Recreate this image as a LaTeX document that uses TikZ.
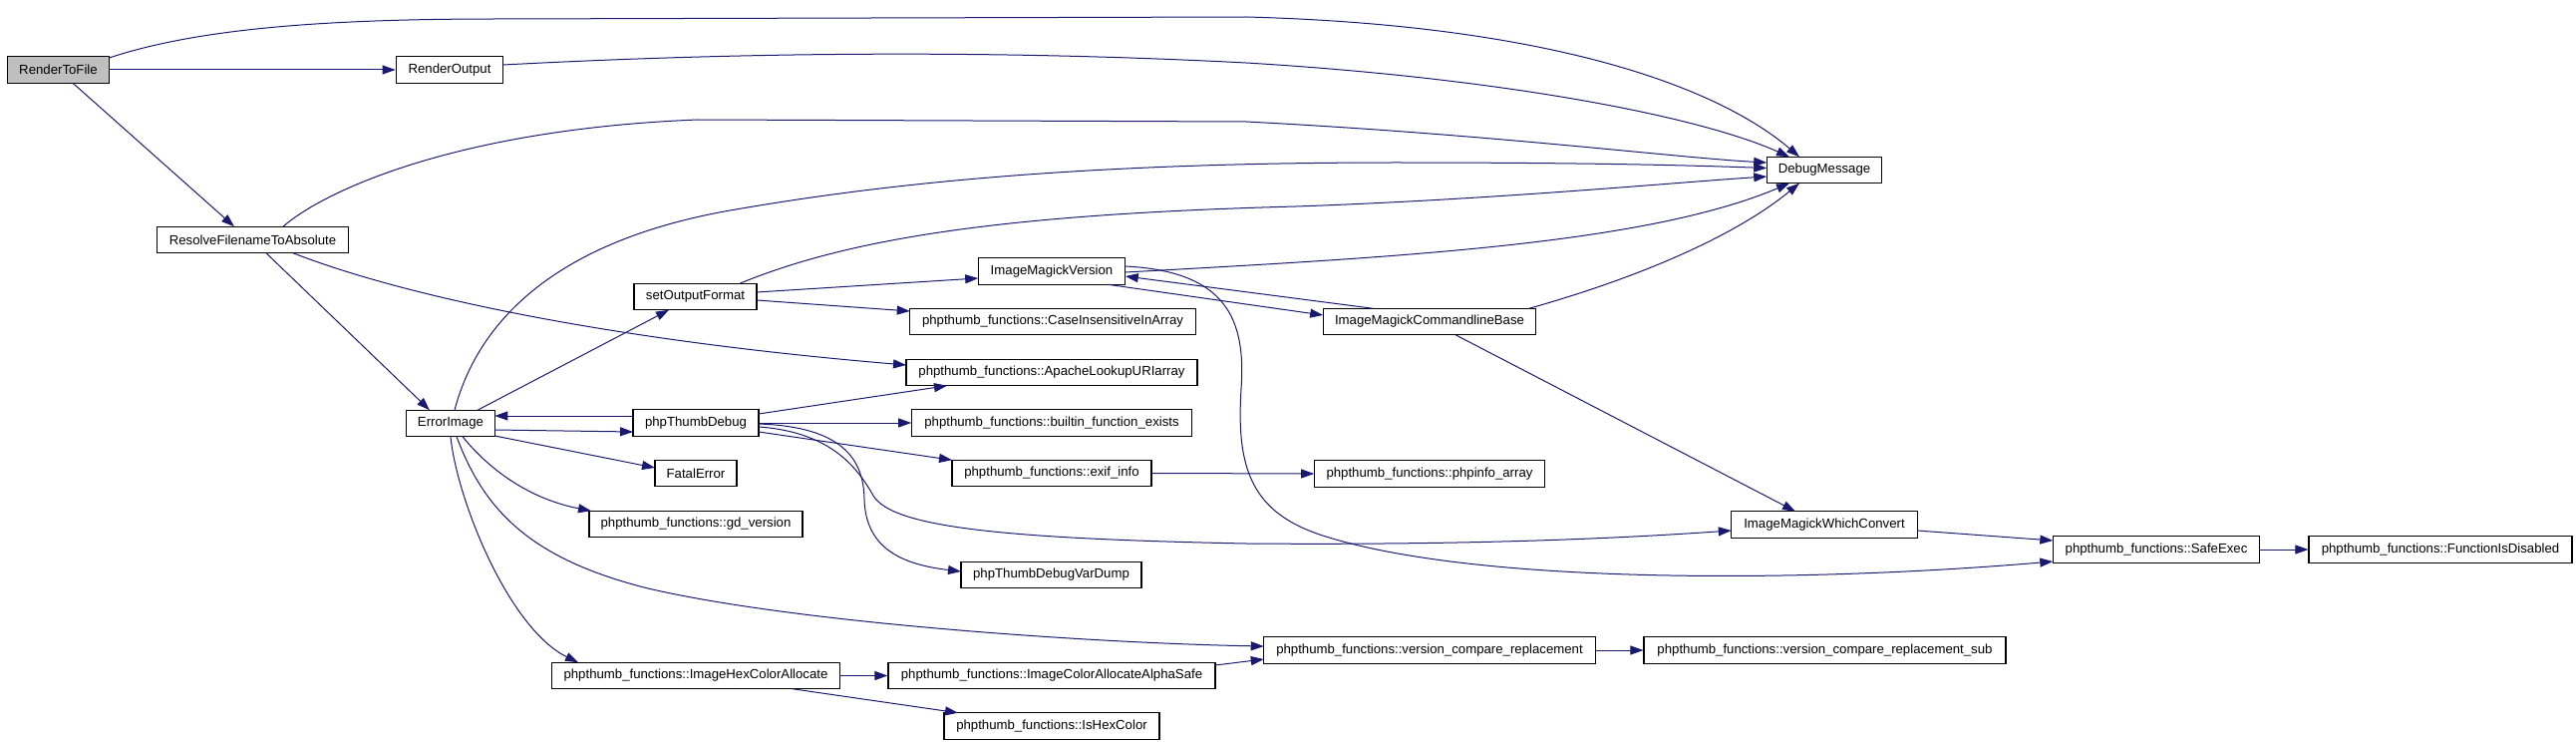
\documentclass[tikz,border=0pt]{standalone}
\usepackage{fontspec}
\setmainfont{Liberation Sans}
\usetikzlibrary{arrows.meta,calc}
\definecolor{edgeblue}{HTML}{191970}
\definecolor{nodegray}{HTML}{BFBFBF}
\begin{document}
\begin{tikzpicture}[x=1pt,y=-1pt,
  box/.style={draw=black,line width=1.1pt,fill=white,minimum height=26.5pt,inner sep=0pt,
    font=\fontsize{13.2}{15.8}\selectfont},
  edge/.style={draw=edgeblue,line width=1pt,-{Triangle[length=13pt,width=9pt]}}]
\useasboundingbox (0,0) rectangle (2584,746);

% nodes
\node[box,fill=nodegray,minimum width=102pt] (rtf) at (58.5,70) {RenderToFile};
\node[box,minimum width=107.5pt] (ro) at (451,70) {RenderOutput};
\node[box,minimum width=192pt] (res) at (253.5,240.5) {ResolveFilenameToAbsolute};
\node[box,minimum width=115.5pt] (dm) at (1830,170.5) {DebugMessage};
\node[box,minimum width=123pt] (sof) at (697.5,297.5) {setOutputFormat};
\node[box,minimum width=147.6pt] (imv) at (1055,272) {ImageMagickVersion};
\node[box,minimum width=286.5pt] (cii) at (1056,322.5) {phpthumb\_functions::CaseInsensitiveInArray};
\node[box,minimum width=213.6pt] (clb) at (1434,322.5) {ImageMagickCommandlineBase};
\node[box,minimum width=292pt] (alu) at (1055,373.5) {phpthumb\_functions::ApacheLookupURIarray};
\node[box,minimum width=88.5pt] (ei) at (452,424.5) {ErrorImage};
\node[box,minimum width=126pt] (ptd) at (698,424) {phpThumbDebug};
\node[box,minimum width=280.5pt] (bfe) at (1055,424) {phpthumb\_functions::builtin\_function\_exists};
\node[box,minimum width=82pt] (fe) at (698,474.5) {FatalError};
\node[box,minimum width=200pt] (exif) at (1055,474.5) {phpthumb\_functions::exif\_info};
\node[box,minimum width=230.5pt] (pia) at (1434,475) {phpthumb\_functions::phpinfo\_array};
\node[box,minimum width=214pt] (gdv) at (698,525.5) {phpthumb\_functions::gd\_version};
\node[box,minimum width=186.5pt] (wc) at (1830,526) {ImageMagickWhichConvert};
\node[box,minimum width=207.4pt] (se) at (2163,551) {phpthumb\_functions::SafeExec};
\node[box,minimum width=264pt] (fid) at (2448,551) {phpthumb\_functions::FunctionIsDisabled};
\node[box,minimum width=181pt] (vdp) at (1054.5,576.5) {phpThumbDebugVarDump};
\node[box,minimum width=332.5pt] (vc) at (1434,652) {phpthumb\_functions::version\_compare\_replacement};
\node[box,minimum width=363pt] (vcs) at (1830.5,652) {phpthumb\_functions::version\_compare\_replacement\_sub};
\node[box,minimum width=289.4pt] (ihca) at (698,677.5) {phpthumb\_functions::ImageHexColorAllocate};
\node[box,minimum width=328pt] (aas) at (1055,677.5) {phpthumb\_functions::ImageColorAllocateAlphaSafe};
\node[box,minimum width=216pt] (ihc) at (1055,728) {phpthumb\_functions::IsHexColor};

% edges
\draw[edge] (rtf.east) -- (ro.west);
\draw[edge] ($(rtf)+(51,-12)$) .. controls (200,28) and (330,19) .. (500,19) -- (1250,17)
  .. controls (1550,25) and (1720,85) .. ($(dm)+(-25,-13.25)$);
\draw[edge] ($(rtf)+(14.5,13.25)$) -- ($(res)+(-18.5,-13.25)$);
\draw[edge] ($(ro)+(53.75,-5)$) .. controls (750,52) and (1000,50) .. (1250,63)
  .. controls (1500,78) and (1700,115) .. ($(dm)+(-35,-13.25)$);
\draw[edge] ($(res)+(30.5,-13.25)$) .. controls (320,195) and (450,130) .. (700,120) -- (1250,122)
  .. controls (1500,135) and (1680,158) .. ($(dm)+(-57.75,-7.5)$);
\draw[edge] ($(res)+(13.5,13.25)$) -- ($(ei)+(-21,-13.25)$);
\draw[edge] ($(res)+(40.5,13.25)$) .. controls (400,295) and (600,340) .. ($(alu)+(-146,-7.5)$);
\draw[edge] ($(ei)+(4,-13.25)$) .. controls (480,320) and (560,240) .. (738,210)
  .. controls (900,182) and (1100,163) .. (1400,163)
  .. controls (1600,163) and (1700,166) .. ($(dm)+(-57.75,-2)$);
\draw[edge] ($(ei)+(27,-13.25)$) -- ($(sof)+(-26.5,13.25)$);
\draw[edge] ($(ei)+(44.25,6.5)$) -- ($(ptd)+(-63,9)$);
\draw[edge] ($(ptd)+(-63,-7)$) -- ($(ei)+(44.25,-7.5)$);
\draw[edge] ($(ei)+(44.25,12.5)$) -- ($(fe)+(-41,-5.5)$);
\draw[edge] ($(ei)+(12,13.25)$) .. controls (490,470) and (530,500) .. ($(gdv)+(-105,-13.25)$);
\draw[edge] ($(ei)+(6,13.25)$) .. controls (485,510) and (530,560) .. (650,590)
  .. controls (800,625) and (1100,645) .. ($(vc)+(-166.25,-4)$);
\draw[edge] ($(ei)+(0,13.25)$) .. controls (458,500) and (510,630) .. ($(ihca)+(-118,-13.25)$);
\draw[edge] ($(sof)+(44.5,-13.25)$) .. controls (850,240) and (1000,215) .. (1300,207)
  .. controls (1500,200) and (1680,183) .. ($(dm)+(-57.75,6.5)$);
\draw[edge] ($(sof)+(61.5,-4.5)$) -- ($(imv)+(-73.8,7)$);
\draw[edge] ($(sof)+(61.5,3.5)$) -- ($(cii)+(-143.25,-10.5)$);
\draw[edge] ($(imv)+(73.8,1)$) .. controls (1400,258) and (1650,245) .. ($(dm)+(-35,13.25)$);
\draw[edge] ($(imv)+(56,13.25)$) -- ($(clb)+(-106.8,-6.5)$);
\draw[edge] ($(clb)+(-57,-13.25)$) -- ($(imv)+(73.8,5)$);
\draw[edge] ($(clb)+(100,-13.25)$) .. controls (1620,285) and (1730,245) .. ($(dm)+(-25,13.25)$);
\draw[edge] ($(clb)+(26,13.25)$) -- ($(wc)+(-29,-13.25)$);
\draw[edge] ($(imv)+(73.8,-5)$) .. controls (1230,272) and (1250,320) .. (1245,390)
  .. controls (1240,470) and (1255,515) .. (1330,538)
  .. controls (1480,585) and (1800,585) .. ($(se)+(-103.7,12)$);
\draw[edge] ($(ptd)+(63,-9)$) -- ($(alu)+(-105,13.25)$);
\draw[edge] (ptd.east) -- (bfe.west);
\draw[edge] ($(ptd)+(63,9)$) -- ($(exif)+(-100,-13.25)$);
\draw[edge] ($(ptd)+(63,4)$) .. controls (830,433) and (858,465) .. (876,497)
  .. controls (895,528) and (1000,540) .. (1250,545)
  .. controls (1500,547) and (1650,538) .. ($(wc)+(-93.25,6)$);
\draw[edge] ($(ptd)+(63,1)$) .. controls (845,428) and (866,460) .. (867,500)
  .. controls (868,550) and (905,566) .. ($(vdp)+(-90.5,-3.5)$);
\draw[edge] (exif.east) -- (pia.west);
\draw[edge] ($(wc)+(93.25,6)$) -- ($(se)+(-103.7,-9)$);
\draw[edge] (se.east) -- (fid.west);
\draw[edge] (vc.east) -- (vcs.west);
\draw[edge] (ihca.east) -- (aas.west);
\draw[edge] ($(ihca)+(97,13.25)$) -- ($(ihc)+(-94,-13.25)$);
\draw[edge] ($(aas)+(164,-10.5)$) -- ($(vc)+(-166.25,9)$);
\end{tikzpicture}
\end{document}
